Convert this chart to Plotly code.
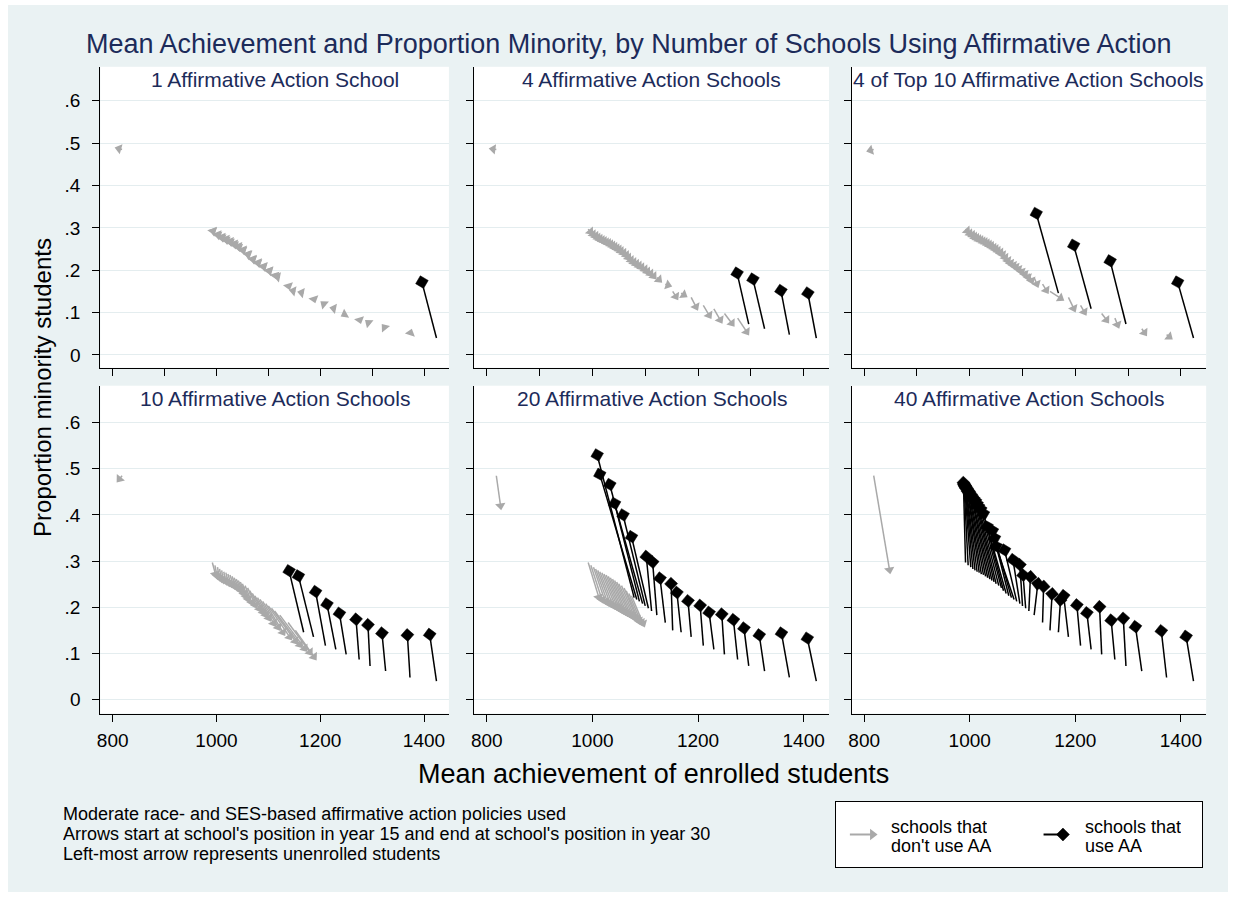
import plotly.graph_objects as go

W, H = 1233, 897
FONT = "Liberation Sans, Arial, Helvetica, sans-serif"
NAVY = "#1c2b5a"
GRAY = "#a9a9a9"
BLACK = "#000000"
BG = "#eaf2f3"
GRID = "#e4edef"

# ---------------- data ----------------
# index 0 = unenrolled students, index k = school ranked k (1 = highest achievement)
# year-15 positions (arrow starts)
ach15 = [818, 1424, 1373, 1326, 1296, 1275, 1250, 1230, 1210, 1187, 1168,
         1152, 1138, 1122, 1112, 1106, 1100, 1095, 1089, 1084, 1079,
         1074, 1069, 1064, 1060, 1055, 1050, 1046, 1042, 1038, 1034,
         1030, 1026, 1022, 1018, 1014, 1010, 1006, 1002, 997, 992]
min15 = [.485, .040, .048, .062, .073, .087, .098, .109, .117, .136, .146,
         .150, .167, .183, .192, .198, .203, .208, .213, .217, .221,
         .225, .230, .236, .242, .247, .251, .255, .258, .261, .264,
         .267, .270, .272, .275, .277, .280, .283, .287, .291, .297]

# year-30 positions (arrow ends), one pair of lists per panel
ach30_p1 = [812, 1396, 1374, 1324, 1293, 1276, 1247, 1226, 1207, 1188, 1164,
            1148, 1139, 1118, 1113, 1103, 1101, 1092, 1090, 1081, 1080,
            1071, 1070, 1061, 1061, 1052, 1051, 1043, 1043, 1035, 1035,
            1027, 1027, 1019, 1019, 1011, 1011, 1003, 1003, 994, 993]
min30_p1 = [.487, .172, .052, .065, .076, .083, .096, .110, .120, .132, .147,
            .151, .163, .184, .188, .199, .199, .209, .209, .218, .217,
            .226, .226, .237, .238, .248, .247, .256, .254, .262, .260,
            .268, .266, .273, .271, .278, .276, .284, .283, .292, .293]

ach30_p2 = [812, 1408, 1357, 1304, 1274, 1292, 1264, 1242, 1221, 1196, 1173,
            1158, 1143, 1126, 1116, 1110, 1104, 1099, 1093, 1088, 1083,
            1078, 1073, 1068, 1064, 1059, 1054, 1050, 1046, 1042, 1038,
            1034, 1030, 1026, 1022, 1018, 1014, 1010, 1006, 1001, 996]
min30_p2 = [.486, .146, .152, .179, .193, .055, .075, .083, .094, .114, .142,
            .138, .165, .178, .186, .192, .197, .202, .207, .211, .215,
            .219, .224, .230, .236, .241, .245, .249, .252, .255, .258,
            .261, .264, .266, .269, .271, .274, .277, .281, .285, .291]

ach30_p3 = [812, 1394, 1378, 1331, 1266, 1280, 1259, 1197, 1217, 1197, 1126,
            1172, 1145, 1127, 1117, 1110, 1104, 1098, 1092, 1087, 1082,
            1077, 1072, 1067, 1062, 1058, 1053, 1049, 1045, 1041, 1037,
            1033, 1029, 1025, 1021, 1017, 1013, 1009, 1005, 1000, 995]
min30_p3 = [.483, .172, .043, .053, .222, .072, .083, .259, .102, .110, .334,
            .134, .153, .168, .176, .184, .191, .197, .203, .208, .212,
            .217, .223, .230, .237, .242, .246, .250, .253, .257, .260,
            .263, .266, .268, .271, .273, .276, .279, .283, .287, .293]

ach30_p4 = [813, 1411, 1368, 1319, 1292, 1269, 1237, 1213, 1191, 1158, 1140,
            1188, 1180, 1170, 1161, 1152, 1141, 1128, 1119, 1110, 1101,
            1095, 1090, 1083, 1075, 1068, 1061, 1057, 1053, 1048, 1043,
            1038, 1033, 1028, 1023, 1018, 1013, 1009, 1005, 1001, 998]
min30_p4 = [.478, .141, .140, .144, .162, .174, .187, .207, .234, .268, .279,
            .093, .103, .111, .119, .127, .136, .146, .157, .166, .177,
            .184, .190, .197, .205, .211, .218, .224, .230, .236, .240,
            .244, .247, .250, .253, .256, .259, .262, .265, .268, .272]

ach30_p5 = [826, 1407, 1358, 1316, 1287, 1267, 1245, 1221, 1204, 1181, 1160,
            1149, 1128, 1114, 1102, 1074, 1058, 1042, 1033, 1014, 1009,
            1096, 1092, 1088, 1084, 1080, 1076, 1072, 1068, 1064, 1060,
            1056, 1052, 1048, 1044, 1039, 1034, 1029, 1024, 1018, 1012]
min30_p5 = [.420, .133, .144, .140, .155, .173, .185, .189, .204, .214, .232,
            .251, .263, .298, .310, .353, .400, .425, .466, .488, .530,
            .165, .168, .171, .175, .178, .181, .183, .186, .188, .191,
            .193, .196, .199, .201, .204, .207, .210, .213, .217, .222]

ach30_p6 = [848, 1410, 1363, 1314, 1291, 1268, 1246, 1222, 1203, 1178, 1172,
            1156, 1140, 1129, 1115, 1101, 1095, 1082, 1066, 1050, 1047,
            1043, 1033, 1026, 1021, 1017, 1014, 1011, 1008, 1005, 1003,
            1000, 998, 996, 995, 993, 992, 991, 990, 989, 988]
min30_p6 = [.281, .137, .149, .158, .176, .172, .201, .188, .205, .225, .216,
            .229, .245, .251, .266, .270, .292, .303, .324, .332, .350,
            .366, .375, .403, .412, .418, .424, .430, .434, .438, .442,
            .447, .450, .453, .456, .459, .461, .463, .465, .467, .470]

# schools (ranks) using affirmative action in each panel
aa_p1 = [1]
aa_p2 = [1, 2, 3, 4]
aa_p3 = [1, 4, 7, 10]
aa_p4 = [1, 2, 3, 4, 5, 6, 7, 8, 9, 10]
aa_p5 = [1, 2, 3, 4, 5, 6, 7, 8, 9, 10, 11, 12, 13, 14, 15, 16, 17, 18, 19, 20]
aa_p6 = list(range(1, 41))

titles = ["1 Affirmative Action School", "4 Affirmative Action Schools",
          "4 of Top 10 Affirmative Action Schools", "10 Affirmative Action Schools",
          "20 Affirmative Action Schools", "40 Affirmative Action Schools"]

y_ticks = [0, .1, .2, .3, .4, .5, .6]
y_labels = ["0", ".1", ".2", ".3", ".4", ".5", ".6"]
x_ticks_top = [800, 900, 1000, 1100, 1200, 1300, 1400]
x_ticks_bottom = [800, 1000, 1200, 1400]
x_labels_bottom = ["800", "1000", "1200", "1400"]

panels = [(ach30_p1, min30_p1, aa_p1), (ach30_p2, min30_p2, aa_p2),
          (ach30_p3, min30_p3, aa_p3), (ach30_p4, min30_p4, aa_p4),
          (ach30_p5, min30_p5, aa_p5), (ach30_p6, min30_p6, aa_p6)]

# ---------------- layout geometry (pixels) ----------------
col_px = [(97.5, 447.0), (472.3, 828.0), (850.6, 1206.1)]
row_px = [(66.8, 367.7), (385.7, 713.5)]
XR = [776, 1448]
YR = [-0.03, 0.68]

GRAY_HEAD = "triangle-up"
BLACK_HEAD = "diamond"


def fx(p):
    return p / W


def fy(p):
    return 1 - p / H


fig = go.Figure()
layout = {}
annotations = []

for i, (a30, m30, aa) in enumerate(panels):
    r, c = divmod(i, 3)
    n = i + 1
    xa = "x" if n == 1 else f"x{n}"
    ya = "y" if n == 1 else f"y{n}"
    gx, gy, gs, bx, by, bs = [], [], [], [], [], []
    for k in range(len(ach15)):
        if k in aa:
            bx += [ach15[k], a30[k], None]
            by += [min15[k], m30[k], None]
            bs += [0, 10, 0]
        else:
            gx += [ach15[k], a30[k], None]
            gy += [min15[k], m30[k], None]
            gs += [0, 9, 0]
    fig.add_trace(go.Scatter(
        x=gx, y=gy, xaxis=xa, yaxis=ya, mode="lines+markers",
        line=dict(color=GRAY, width=1.5),
        marker=dict(symbol=GRAY_HEAD, size=gs, angleref="previous", color=GRAY,
                    opacity=1, line=dict(width=0)),
        hoverinfo="skip", showlegend=False))
    fig.add_trace(go.Scatter(
        x=bx, y=by, xaxis=xa, yaxis=ya, mode="lines+markers",
        line=dict(color=BLACK, width=1.5),
        marker=dict(symbol=BLACK_HEAD, size=bs, angleref="previous", color=BLACK,
                    opacity=1, line=dict(width=0.5, color=BLACK)),
        hoverinfo="skip", showlegend=False))

    x0, x1 = col_px[c]
    y0, y1 = row_px[r]
    xkey = "xaxis" if n == 1 else f"xaxis{n}"
    ykey = "yaxis" if n == 1 else f"yaxis{n}"
    layout[xkey] = dict(
        domain=[fx(x0), fx(x1)], range=XR, anchor=ya, showgrid=False, zeroline=False,
        showline=True, linecolor="black", linewidth=1, ticks="outside", ticklen=7,
        tickcolor="black", tickwidth=1,
        tickvals=x_ticks_bottom if r == 1 else x_ticks_top,
        ticktext=x_labels_bottom if r == 1 else None,
        showticklabels=(r == 1), ticklabelstandoff=3,
        tickfont=dict(family=FONT, size=19, color="black"))
    layout[ykey] = dict(
        domain=[fy(y1), fy(y0)], range=YR, anchor=xa, showgrid=True, gridcolor=GRID,
        gridwidth=1, zeroline=False, showline=True, linecolor="black", linewidth=1,
        ticks="outside", ticklen=7, tickcolor="black", tickwidth=1,
        tickvals=y_ticks, ticktext=y_labels, showticklabels=(c == 0),
        ticklabelstandoff=8, tickfont=dict(family=FONT, size=19, color="black"))

    annotations.append(dict(
        text=titles[i], x=fx((x0 + x1) / 2), y=fy(79 if r == 0 else 399),
        xref="paper", yref="paper", xanchor="center", yanchor="middle",
        showarrow=False, font=dict(family=FONT, size=21, color=NAVY)))

# legend box as a small subplot
LX0, LX1, LY0, LY1 = 835, 1202, 802, 867
layout["xaxis7"] = dict(domain=[fx(LX0), fx(LX1)], range=[0, 1], anchor="y7",
                        showgrid=False, zeroline=False, showticklabels=False, ticks="",
                        showline=True, mirror=True, linecolor="black", linewidth=1)
layout["yaxis7"] = dict(domain=[fy(LY1), fy(LY0)], range=[0, 1], anchor="x7",
                        showgrid=False, zeroline=False, showticklabels=False, ticks="",
                        showline=True, mirror=True, linecolor="black", linewidth=1)
fig.add_trace(go.Scatter(x=[0.038, 0.10], y=[0.5, 0.5], xaxis="x7", yaxis="y7",
                         mode="lines+markers", line=dict(color=GRAY, width=2),
                         marker=dict(symbol=GRAY_HEAD, size=[0, 10], angleref="previous",
                                     color=GRAY, opacity=1, line=dict(width=0)),
                         hoverinfo="skip", showlegend=False))
fig.add_trace(go.Scatter(x=[0.567, 0.62], y=[0.5, 0.5], xaxis="x7", yaxis="y7",
                         mode="lines+markers", line=dict(color=BLACK, width=2),
                         marker=dict(symbol=BLACK_HEAD, size=[0, 10], angleref="previous",
                                     color=BLACK, opacity=1,
                                     line=dict(width=0.5, color=BLACK)),
                         hoverinfo="skip", showlegend=False))
legend_lines = [(892, ["schools that", "don't use AA"]), (1087, ["schools that", "use AA"])]
for lx, lines in legend_lines:
    for j, t in enumerate(lines):
        annotations.append(dict(text=t, x=fx(lx - 3), y=fy(826 + 19 * j),
                                xref="paper", yref="paper", xanchor="left",
                                yanchor="middle", showarrow=False, height=19,
                                borderpad=0, valign="middle",
                                font=dict(family=FONT, size=18, color="black")))

# titles and notes
annotations.append(dict(
    text="Mean Achievement and Proportion Minority, by Number of Schools Using Affirmative Action",
    x=fx(628), y=fy(44), xref="paper", yref="paper", xanchor="center", yanchor="middle",
    showarrow=False, font=dict(family=FONT, size=27, color=NAVY)))
annotations.append(dict(
    text="Proportion minority students", x=fx(40), y=fy(387), xref="paper", yref="paper",
    xanchor="center", yanchor="middle", textangle=-90, showarrow=False,
    font=dict(family=FONT, size=24, color="black")))
annotations.append(dict(
    text="Mean achievement of enrolled students", x=fx(652), y=fy(774), xref="paper",
    yref="paper", xanchor="center", yanchor="middle", showarrow=False,
    font=dict(family=FONT, size=27, color="black")))
notes = ["Moderate race- and SES-based affirmative action policies used",
         "Arrows start at school's position in year 15 and end at school's position in year 30",
         "Left-most arrow represents unenrolled students"]
for j, t in enumerate(notes):
    annotations.append(dict(text=t, x=fx(59), y=fy(814 + 20 * j), xref="paper",
                            yref="paper", xanchor="left", yanchor="middle",
                            showarrow=False, height=20, borderpad=0, valign="middle",
                            font=dict(family=FONT, size=18, color="black")))

fig.update_layout(
    width=W, height=H, margin=dict(l=0, r=0, t=0, b=0),
    paper_bgcolor=BG, plot_bgcolor="white", showlegend=False, hovermode=False,
    font=dict(family=FONT), annotations=annotations,
    shapes=[dict(type="rect", xref="paper", yref="paper", x0=0, x1=1, y0=0, y1=1,
                 line=dict(color="white", width=10), fillcolor="rgba(0,0,0,0)",
                 layer="above")],
    **layout)

fig.write_html("out.html")
